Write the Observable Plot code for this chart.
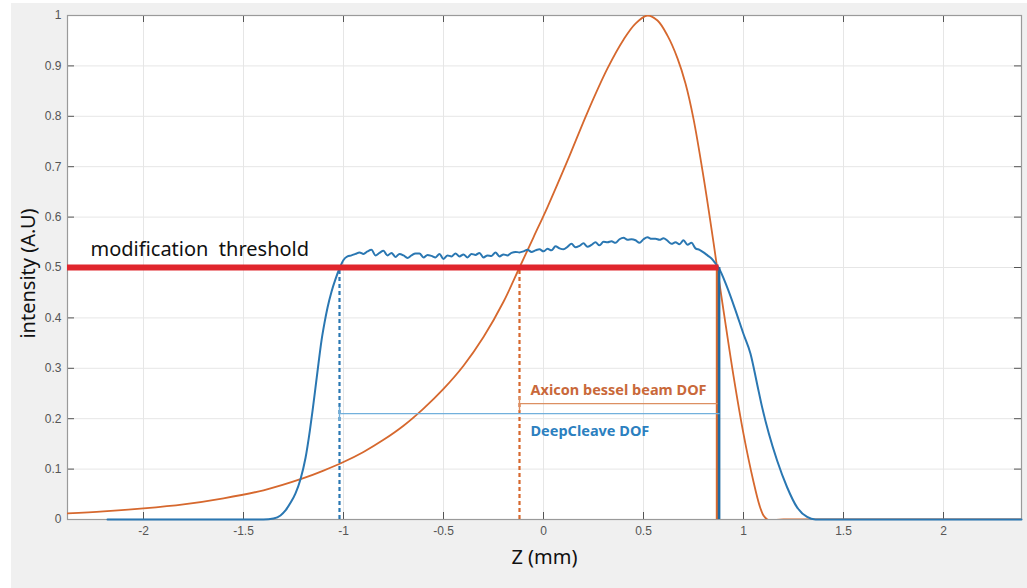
<!DOCTYPE html>
<html>
<head>
<meta charset="utf-8">
<script src="https://cdn.jsdelivr.net/npm/d3@7"></script>
<script src="https://cdn.jsdelivr.net/npm/@observablehq/plot@0.6"></script>
<style>
  html, body { margin: 0; padding: 0; background: #ffffff; }
  #wrap { position: relative; width: 1027px; height: 588px; }
  #bg { position: absolute; left: 11px; top: 3px; right: 0; bottom: 0; background: #f0f0f0; }
  #chart { position: absolute; left: 0; top: 0; }
</style>
</head>
<body>
<div id="wrap"><div id="bg"></div><div id="chart"></div></div>
<script>
// ---- data ----
const xTicks = [-2, -1.5, -1, -0.5, 0, 0.5, 1, 1.5, 2];
const yTicks = [0, 0.1, 0.2, 0.3, 0.4, 0.5, 0.6, 0.7, 0.8, 0.9, 1];
const xDomain = [-2.38, 2.39];

// DeepCleave intensity profile (blue)
const zDeep = [-2.18, -1.4, -1.35, -1.315, -1.29, -1.265, -1.24, -1.215, -1.19, -1.168, -1.155, -1.14, -1.125, -1.11, -1.095, -1.08, -1.06, -1.04, -1.02,
  -1.00, -0.98, -0.96, -0.94, -0.92, -0.90, -0.88, -0.86, -0.84, -0.82, -0.80, -0.78, -0.76, -0.74, -0.72, -0.70, -0.68, -0.66, -0.64, -0.62,
  -0.60, -0.58, -0.56, -0.54, -0.52, -0.50, -0.48, -0.46, -0.44, -0.42, -0.40, -0.38, -0.36, -0.34, -0.32, -0.30, -0.28, -0.26, -0.24, -0.22,
  -0.20, -0.18, -0.16, -0.14, -0.12, -0.10, -0.08, -0.06, -0.04, -0.02, 0.00, 0.02, 0.04, 0.06, 0.08, 0.10, 0.12, 0.14, 0.16, 0.18,
  0.20, 0.22, 0.24, 0.26, 0.28, 0.30, 0.32, 0.34, 0.36, 0.38, 0.40, 0.42, 0.44, 0.46, 0.48, 0.50, 0.52, 0.54, 0.56, 0.58,
  0.60, 0.62, 0.64, 0.66, 0.68, 0.70, 0.72, 0.74, 0.76, 0.78, 0.80, 0.82, 0.84, 0.86, 0.875,
  0.918, 0.96, 1.0, 1.035, 1.068, 1.093, 1.127, 1.168, 1.218, 1.268, 1.318, 1.36, 2.39];
const iDeep = [0, 0, 0.002, 0.008, 0.018, 0.033, 0.052, 0.08, 0.122, 0.177, 0.215, 0.262, 0.31, 0.355, 0.39, 0.42, 0.452, 0.477, 0.498,
  0.515, 0.522, 0.524, 0.527, 0.530, 0.527, 0.532, 0.535, 0.524, 0.529, 0.533, 0.524, 0.529, 0.521, 0.527, 0.524, 0.519, 0.524, 0.528, 0.528,
  0.520, 0.525, 0.523, 0.520, 0.527, 0.517, 0.524, 0.522, 0.528, 0.522, 0.526, 0.520, 0.527, 0.525, 0.529, 0.520, 0.524, 0.523, 0.530, 0.522,
  0.526, 0.524, 0.529, 0.531, 0.530, 0.532, 0.535, 0.531, 0.534, 0.536, 0.532, 0.537, 0.534, 0.542, 0.538, 0.536, 0.541, 0.547, 0.540, 0.543,
  0.548, 0.541, 0.545, 0.550, 0.544, 0.551, 0.550, 0.552, 0.549, 0.556, 0.559, 0.555, 0.556, 0.554, 0.549, 0.556, 0.560, 0.557, 0.557, 0.555,
  0.558, 0.553, 0.547, 0.550, 0.546, 0.554, 0.545, 0.549, 0.538, 0.535, 0.530, 0.524, 0.518, 0.508, 0.500,
  0.461, 0.415, 0.368, 0.329, 0.269, 0.223, 0.17, 0.117, 0.064, 0.024, 0.005, 0, 0];

// Axicon Bessel beam intensity profile (orange)
const zAxicon = [-2.38, -2.2, -2.0, -1.8, -1.6, -1.4, -1.2, -1.1, -1.0, -0.9, -0.8, -0.7, -0.6, -0.5, -0.4, -0.3, -0.2, -0.12, -0.05, 0.02,
  0.12, 0.22, 0.32, 0.40, 0.46, 0.52, 0.57, 0.62, 0.67, 0.71, 0.75, 0.8, 0.85, 0.868, 0.9, 0.95, 1.0, 1.05, 1.08, 1.1,
  1.12, 1.2, 1.5, 2.39];
const iAxicon = [0.012, 0.016, 0.022, 0.030, 0.042, 0.058, 0.082, 0.097, 0.114, 0.134, 0.158, 0.186, 0.220, 0.259, 0.305, 0.362, 0.432, 0.5, 0.56, 0.62,
  0.712, 0.808, 0.895, 0.952, 0.984, 1.0, 0.99, 0.96, 0.915, 0.865, 0.795, 0.68, 0.55, 0.5, 0.415, 0.285, 0.17, 0.075, 0.028, 0.008,
  0, 0, 0, 0];

// annotations
const thresholdLevel = 0.5;
const thresholdLabel = "modification\u00a0 threshold";
const deepDOF = [-1.02, 0.878];     // DeepCleave depth of focus (start, end)
const axiconDOF = [-0.12, 0.868];   // Axicon depth of focus (start, end)
const deepDOFLevel = 0.21;
const axiconDOFLevel = 0.23;
const deepLabel = "DeepCleave DOF";
const axiconLabel = "Axicon bessel beam DOF";
const xLabel = "Z (mm)";
const yLabel = "intensity (A.U)";

// ---- build ----
const deep = zDeep.map((z, i) => ({z, v: iDeep[i]}));
const axicon = zAxicon.map((z, i) => ({z, v: iAxicon[i]}));

const BLUE = "#2a77b2";
const ORANGE = "#d6682e";
const RED = "#e0262d";
const SANS = "'Noto Sans', 'Open Sans', sans-serif";

const W = 1027, H = 588;
const mL = 67, mR = 6, mT = 15, mB = 69;
const pw = W - mL - mR, ph = H - mT - mB;
const tickLen = 7;

const chart = Plot.plot({
  width: W,
  height: H,
  marginLeft: mL,
  marginRight: mR,
  marginTop: mT,
  marginBottom: mB,
  style: {background: "transparent", fontFamily: "'Liberation Sans', Arial, sans-serif", overflow: "visible"},
  x: {domain: xDomain, label: null},
  y: {domain: [0, 1], label: null},
  marks: [
    Plot.frame({fill: "white", stroke: null}),
    Plot.ruleX(xTicks, {x: d => d, stroke: "#e6e6e6", strokeWidth: 1}),
    Plot.ruleY(yTicks, {y: d => d, stroke: "#e6e6e6", strokeWidth: 1}),
    // inward ticks (bottom, top, left, right)
    Plot.tickX(xTicks, {x: d => d, insetTop: ph - tickLen, stroke: "#555"}),
    Plot.tickX(xTicks, {x: d => d, insetBottom: ph - tickLen, stroke: "#555"}),
    Plot.tickY(yTicks, {y: d => d, insetRight: pw - tickLen, stroke: "#555"}),
    Plot.tickY(yTicks, {y: d => d, insetLeft: pw - tickLen, stroke: "#555"}),
    Plot.frame({stroke: "#9a9a9a", strokeWidth: 1.2}),
    Plot.axisX(xTicks, {tickSize: 0, tickPadding: 7, fontSize: 12, fill: "#555", tickFormat: d => String(d), label: null}),
    Plot.axisY(yTicks, {tickSize: 0, tickPadding: 6, fontSize: 12, fill: "#555", tickFormat: d => String(d), label: null}),
    // curves
    Plot.line(axicon, {x: "z", y: "v", stroke: ORANGE, strokeWidth: 1.8, curve: "catmull-rom", clip: true}),
    Plot.line(deep, {x: "z", y: "v", stroke: BLUE, strokeWidth: 2, curve: "monotone-x"}),
    // DOF markers
    Plot.ruleX([deepDOF[0]], {x: d => d, y1: 0, y2: thresholdLevel, stroke: BLUE, strokeWidth: 2.2, strokeDasharray: "4,3"}),
    Plot.ruleX([axiconDOF[0]], {x: d => d, y1: 0, y2: thresholdLevel, stroke: ORANGE, strokeWidth: 2.2, strokeDasharray: "4,3"}),
    Plot.ruleX([axiconDOF[1]], {x: d => d, y1: 0, y2: thresholdLevel, stroke: ORANGE, strokeWidth: 2.6}),
    Plot.ruleX([deepDOF[1]], {x: d => d, y1: 0, y2: thresholdLevel, stroke: "#1f6aa3", strokeWidth: 2.6}),
    Plot.arrow([axiconDOF], {x1: d => d[1], x2: d => d[0], y1: axiconDOFLevel, y2: axiconDOFLevel, stroke: "#dc8f62", strokeWidth: 1.4, headAngle: 180, headLength: 7, bend: 0}),
    Plot.arrow([deepDOF], {x1: d => d[1], x2: d => d[0], y1: deepDOFLevel, y2: deepDOFLevel, stroke: "#72b0dc", strokeWidth: 1.4, headAngle: 180, headLength: 7, bend: 0}),
    // threshold
    Plot.ruleY([thresholdLevel], {y: d => d, x1: xDomain[0], x2: deepDOF[1], stroke: RED, strokeWidth: 6}),
    Plot.text([thresholdLabel], {text: d => d, x: -2.265, y: thresholdLevel, dy: -18, textAnchor: "start", lineAnchor: "middle", fontSize: 20, fill: "#111", fontFamily: SANS}),
    Plot.text([axiconLabel], {text: d => d, x: -0.065, y: axiconDOFLevel, dy: -13, textAnchor: "start", lineAnchor: "middle", fontSize: 14.5, fontWeight: "bold", fill: "#c9683a", fontFamily: SANS}),
    Plot.text([deepLabel], {text: d => d, x: -0.065, y: deepDOFLevel, dy: 18, textAnchor: "start", lineAnchor: "middle", fontSize: 14.5, fontWeight: "bold", fill: "#2c80bf", fontFamily: SANS}),
    // axis titles
    Plot.text([xLabel], {text: d => d, frameAnchor: "bottom", dy: 38, lineAnchor: "middle", fontSize: 20, fill: "#111", fontFamily: SANS}),
    Plot.text([yLabel], {text: d => d, frameAnchor: "left", dx: -39, dy: 6, rotate: -90, textAnchor: "middle", lineAnchor: "middle", fontSize: 20, fill: "#111", fontFamily: SANS})
  ]
});
document.getElementById("chart").appendChild(chart);
</script>
</body>
</html>
